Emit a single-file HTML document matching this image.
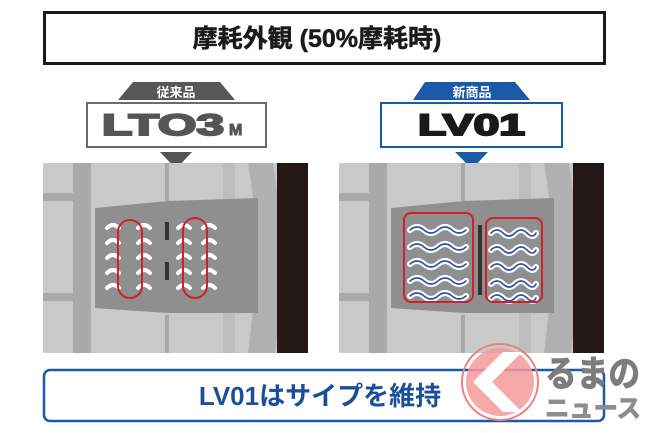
<!DOCTYPE html>
<html><head><meta charset="utf-8"><style>
html,body{margin:0;padding:0;background:#fff;}
body{width:650px;height:433px;overflow:hidden;position:relative;font-family:"Liberation Sans","Noto Sans CJK JP",sans-serif;}
</style></head><body>
<svg width="650" height="433" viewBox="0 0 650 433" xmlns="http://www.w3.org/2000/svg" style="position:absolute;left:0;top:0">
<defs>
<g id="tread">
  <rect x="0" y="0" width="265" height="190" fill="#c9c9c9"/>
  <rect x="30" y="0" width="18" height="190" fill="#a9a9a9"/>
  <rect x="0" y="30" width="40" height="8" fill="#a9a9a9"/>
  <rect x="0" y="130" width="40" height="8" fill="#a9a9a9"/>
  <rect x="180" y="0" width="12" height="190" fill="#bdbdbd"/>
  <path d="M205 0 Q220 80 205 190 L232 190 Q245 95 230 0Z" fill="#b0b0b0"/>
  <rect x="234" y="0" width="31" height="190" fill="#231815"/>
  <polygon points="52,45 125,38 215,35 215,150 125,150 52,145" fill="#8f8f8f"/>
  <rect x="122" y="0" width="4" height="38" fill="#a8a8a8"/>
  <rect x="122" y="152" width="4" height="38" fill="#a8a8a8"/>
</g>
</defs>
<!-- title -->
<rect x="44.5" y="12.5" width="560" height="51" fill="#fff" stroke="#1a1a1a" stroke-width="3"/>
<text x="317" y="47" text-anchor="middle" font-size="25" font-weight="bold" fill="#1a1a1a" stroke="#1a1a1a" stroke-width="0.5">摩耗外観 (50%摩耗時)</text>
<!-- left label -->
<polygon points="133,82 220,82 235,100 118,100" fill="#575757"/>
<text x="176" y="97" text-anchor="middle" font-size="13" font-weight="bold" fill="#fff">従来品</text>
<rect x="87" y="103" width="179" height="44" fill="#fff" stroke="#6a6a6a" stroke-width="2"/>
<text x="102" y="135" font-size="30" font-weight="bold" fill="#555" stroke="#555" stroke-width="2" textLength="122" lengthAdjust="spacingAndGlyphs">LTO3</text>
<text x="229" y="135" font-size="16" font-weight="bold" fill="#555" stroke="#555" stroke-width="1">M</text>
<polygon points="160,152 192,152 176,169" fill="#555"/>
<!-- right label -->
<polygon points="425,82 515,82 530,100 413,100" fill="#1b5aa6"/>
<text x="472" y="97" text-anchor="middle" font-size="13" font-weight="bold" fill="#fff">新商品</text>
<rect x="381" y="103" width="181" height="44" fill="#fff" stroke="#1b5aa6" stroke-width="2"/>
<text x="418" y="135" font-size="30" font-weight="bold" fill="#1a1a1a" stroke="#1a1a1a" stroke-width="2" textLength="107" lengthAdjust="spacingAndGlyphs">LV01</text>
<polygon points="455,152 488,152 472,169" fill="#1b5aa6"/>
<!-- left photo -->
<g transform="translate(43,163)"><use href="#tread"/></g>
<g fill="none" stroke="#fff" stroke-width="4" stroke-linecap="round">
  <path d="M107 228 q6 -6 12 0 M107 243 q6 -6 12 0 M107 258 q6 -6 12 0 M107 273 q6 -6 12 0 M107 288 q6 -6 12 0"/>
  <path d="M138 228 q6 -6 12 0 M138 243 q6 -6 12 0 M138 258 q6 -6 12 0 M138 273 q6 -6 12 0 M138 288 q6 -6 12 0"/>
  <path d="M178 228 q6 -6 12 0 M178 243 q6 -6 12 0 M178 258 q6 -6 12 0 M178 273 q6 -6 12 0 M178 288 q6 -6 12 0"/>
  <path d="M203 228 q6 -6 12 0 M203 243 q6 -6 12 0 M203 258 q6 -6 12 0 M203 273 q6 -6 12 0 M203 288 q6 -6 12 0"/>
</g>
<rect x="165" y="222" width="4" height="18" fill="#333"/>
<rect x="165" y="262" width="4" height="18" fill="#333"/>
<rect x="118" y="220" width="24" height="78" rx="12" fill="none" stroke="#d0202a" stroke-width="2"/>
<rect x="183" y="218" width="24" height="80" rx="12" fill="none" stroke="#d0202a" stroke-width="2"/>
<!-- right photo -->
<g transform="translate(339,163)"><use href="#tread"/></g>
<rect x="478" y="225" width="4" height="70" fill="#333"/>
<g fill="none" stroke="#fff" stroke-width="6" stroke-linecap="round">
  <path d="M410 230 q7 -6 14 0 t14 0 t14 0 t14 0 M410 247 q7 -6 14 0 t14 0 t14 0 t14 0 M410 264 q7 -6 14 0 t14 0 t14 0 t14 0 M410 281 q7 -6 14 0 t14 0 t14 0 t14 0 M410 296 q7 -6 14 0 t14 0 t14 0 t14 0"/>
  <path d="M491 233 q6 -6 12 0 t12 0 t12 0 t9 0 M491 250 q6 -6 12 0 t12 0 t12 0 t9 0 M491 267 q6 -6 12 0 t12 0 t12 0 t9 0 M491 284 q6 -6 12 0 t12 0 t12 0 t9 0 M491 298 q6 -6 12 0 t12 0 t12 0 t9 0"/>
</g>
<g fill="none" stroke="#2b4fa8" stroke-width="1.6" stroke-linecap="round">
  <path d="M410 230 q7 -6 14 0 t14 0 t14 0 t14 0 M410 247 q7 -6 14 0 t14 0 t14 0 t14 0 M410 264 q7 -6 14 0 t14 0 t14 0 t14 0 M410 281 q7 -6 14 0 t14 0 t14 0 t14 0 M410 296 q7 -6 14 0 t14 0 t14 0 t14 0"/>
  <path d="M491 233 q6 -6 12 0 t12 0 t12 0 t9 0 M491 250 q6 -6 12 0 t12 0 t12 0 t9 0 M491 267 q6 -6 12 0 t12 0 t12 0 t9 0 M491 284 q6 -6 12 0 t12 0 t12 0 t9 0 M491 298 q6 -6 12 0 t12 0 t12 0 t9 0"/>
</g>
<rect x="404" y="213" width="69" height="89" rx="7" fill="none" stroke="#d0202a" stroke-width="2"/>
<rect x="486" y="218" width="56" height="84" rx="7" fill="none" stroke="#d0202a" stroke-width="2"/>
<!-- bottom -->
<rect x="44" y="370" width="560" height="51" rx="6" fill="#fff" stroke="#1b5aa6" stroke-width="2.5"/>
<text x="320" y="405" text-anchor="middle" font-size="26" font-weight="bold" fill="#1b4f9a">LV01はサイプを維持</text>
<!-- watermark -->
<circle cx="500" cy="382" r="38" fill="none" stroke="#f08080" stroke-width="2"/>
<circle cx="500" cy="382" r="34" fill="#f49a9a" opacity="0.85"/>
<polygon points="473,382 503,352 522,352 492,382 522,412 503,412" fill="#fff"/>
<text x="545" y="386" font-size="36" font-weight="bold" fill="#7d7d7d" stroke="#7d7d7d" stroke-width="1" textLength="95" lengthAdjust="spacingAndGlyphs">るまの</text>
<text x="545" y="417" font-size="25" font-weight="bold" fill="#8d8d8d" stroke="#8d8d8d" stroke-width="1" textLength="96" lengthAdjust="spacingAndGlyphs">ニュース</text>
</svg>
</body></html>
